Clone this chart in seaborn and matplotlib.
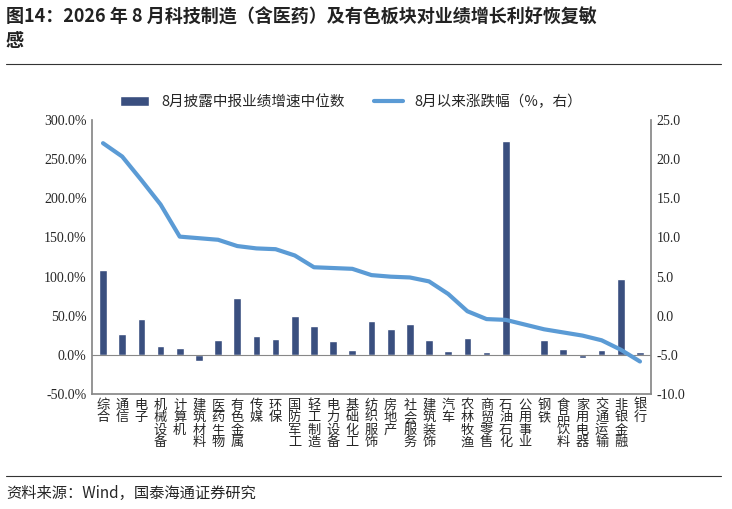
import matplotlib
matplotlib.use("Agg")
import matplotlib.pyplot as plt
import seaborn as sns
import pandas as pd

sns.set_theme(style="white")
plt.rcParams['font.family'] = ['Noto Sans CJK SC', 'DejaVu Sans']
plt.rcParams['axes.unicode_minus'] = False

industries = ["综合","通信","电子","机械设备","计算机","建筑材料","医药生物","有色金属","传媒","环保",
              "国防军工","轻工制造","电力设备","基础化工","纺织服饰","房地产","社会服务","建筑装饰","汽车",
              "农林牧渔","商贸零售","石油石化","公用事业","钢铁","食品饮料","家用电器","交通运输","非银金融","银行"]
growth = [108,27,46,12,9,-7,19,73,25,21,50,37,18,6,43,33,40,19,5,22,4,273,2,20,8,-4,6,97,4]
change = [22.0,20.3,17.3,14.2,10.1,9.9,9.7,8.9,8.6,8.5,7.7,6.2,6.1,6.0,5.2,5.0,4.9,4.4,2.8,0.6,
          -0.4,-0.5,-1.1,-1.7,-2.1,-2.5,-3.1,-4.3,-5.8]

df = pd.DataFrame({"ind": industries, "g": growth, "c": change})
bar_c = "#2E4A8B"; line_c = "#5B9BD5"

fig = plt.figure(figsize=(7.32, 5.09), dpi=100)
ax = fig.add_axes([0.125, 0.225, 0.765, 0.54])
sns.barplot(data=df, x="ind", y="g", color=bar_c, width=0.4, ax=ax, label="8月披露中报业绩增速中位数")
ax.set_ylim(-50, 300)
ax.set_yticks(range(-50, 301, 50))
ax.set_yticklabels([f"{v:.1f}%" for v in range(-50, 301, 50)], fontsize=10, family=['Liberation Serif'])
ax.set_xlabel(""); ax.set_ylabel("")
ax2 = ax.twinx()
sns.lineplot(x=list(range(len(industries))), y=change, ax=ax2, color=line_c, linewidth=3, label="8月以来涨跌幅（%，右）")
ax2.set_ylim(-10, 25)
ax2.set_yticks(range(-10, 26, 5))
ax2.set_yticklabels([f"{v:.1f}" for v in range(-10, 26, 5)], fontsize=10, family=['Liberation Serif'])
ax2.set_ylabel("")
ax.set_xlim(-0.6, len(industries) - 0.4)
ax.set_xticks(range(len(industries)))
ax.set_xticklabels(["\n".join(s) for s in industries], rotation=0, fontsize=9.5, linespacing=0.95, va="top")
ax.tick_params(axis='x', pad=3, length=0)
for a in (ax, ax2):
    for s in a.spines.values():
        s.set_visible(False)
ax.axhline(0, color="#888888", lw=0.8)
ax.tick_params(axis='y', length=0)
ax2.tick_params(axis='y', length=0)
ax.spines['left'].set_visible(True); ax.spines['left'].set_color("#888888")
ax2.spines['right'].set_visible(True); ax2.spines['right'].set_color("#888888")
ax.spines['bottom'].set_visible(True); ax.spines['bottom'].set_color("#888888")

h1, l1 = ax.get_legend_handles_labels()
h2, l2 = ax2.get_legend_handles_labels()
if ax2.get_legend(): ax2.get_legend().remove()
if ax.get_legend(): ax.get_legend().remove()
fig.legend(h1 + h2, l1 + l2, loc="center", bbox_to_anchor=(0.48, 0.8), ncol=2, frameon=False, fontsize=10.5)

fig.text(0.008, 0.985, "图14：2026 年 8 月科技制造（含医药）及有色板块对业绩增长利好恢复敏\n感",
         fontsize=13, fontweight="bold", va="top", color="#222222", linespacing=1.3)
fig.add_artist(plt.Line2D([0.008, 0.985], [0.875, 0.875], color="#333333", lw=0.8))
fig.add_artist(plt.Line2D([0.008, 0.985], [0.065, 0.065], color="#333333", lw=0.8))
fig.text(0.008, 0.03, "资料来源：Wind，国泰海通证券研究", fontsize=11, va="center")
fig.savefig("out.png", dpi=100)
